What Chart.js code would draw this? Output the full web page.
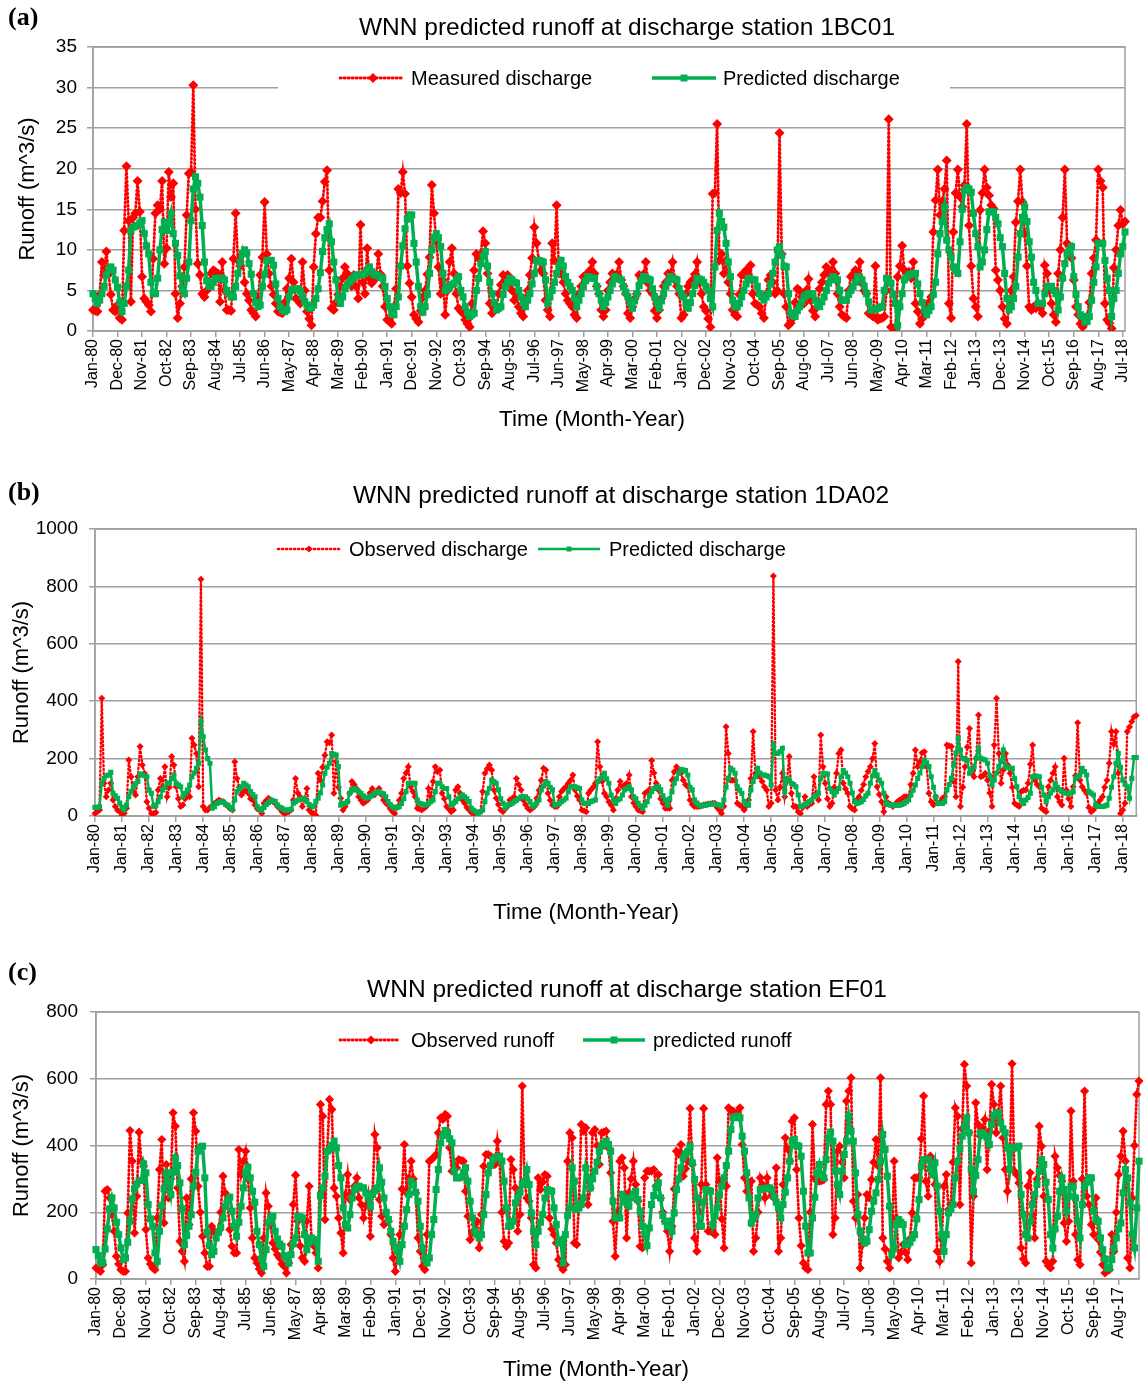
<!DOCTYPE html>
<html>
<head>
<meta charset="utf-8">
<script src="https://cdn.jsdelivr.net/npm/chart.js@4.4.0/dist/chart.umd.min.js"></script>
<style>
  body { margin: 0; background: #fff; }
  .panel { position: absolute; left: 0; width: 1144px; }
</style>
</head>
<body>
<div class="panel" style="top:0;height:460px"><canvas id="chartA" width="1144" height="460"></canvas></div>
<div class="panel" style="top:470px;height:470px"><canvas id="chartB" width="1144" height="470"></canvas></div>
<div class="panel" style="top:950px;height:436px"><canvas id="chartC" width="1144" height="436"></canvas></div>
<script>
// station 1BC01, monthly from Jan-80
const measuredA = [
  2.6, 2.5, 2.4, 4.5, 8.5, 6.9, 9.8, 7.0, 4.5, 2.6, 2.4, 3.2,
  1.6, 1.4, 12.4, 20.3, 13.6, 3.6, 14.0, 14.5, 18.5, 14.7, 6.7, 4.0,
  3.6, 3.2, 2.4, 8.9, 14.5, 15.5, 15.0, 18.5, 8.3, 10.2, 19.6, 16.5,
  18.2, 4.6, 1.6, 3.4, 5.5, 7.9, 14.3, 19.4, 19.6, 30.3, 15.0, 8.3,
  6.9, 4.6, 4.2, 5.0, 6.0, 7.1, 7.5, 7.3, 7.1, 3.6, 8.5, 5.0,
  2.6, 2.6, 2.5, 8.9, 14.5, 8.7, 8.0, 9.5, 6.0, 4.6, 3.8, 2.6,
  2.2, 1.8, 4.0, 6.9, 9.1, 15.9, 9.5, 7.1, 5.5, 4.5, 3.4, 2.4,
  2.3, 2.2, 3.5, 5.2, 6.5, 8.9, 6.0, 4.0, 3.8, 3.4, 8.5, 5.0,
  2.4, 1.5, 0.7, 7.9, 12.0, 14.0, 14.0, 16.0, 18.4, 19.8, 7.5, 2.8,
  2.6, 3.5, 4.5, 5.5, 6.5, 7.9, 7.1, 6.0, 5.5, 6.9, 5.5, 4.0,
  13.1, 6.0, 4.6, 10.2, 6.5, 5.9, 7.1, 6.5, 9.5, 7.0, 5.5, 3.0,
  1.4, 1.2, 0.9, 3.0, 5.2, 17.5, 17.0, 19.6, 16.9, 8.0, 5.9, 4.2,
  2.0, 1.5, 1.1, 2.5, 4.2, 5.0, 7.0, 9.1, 18.0, 14.5, 11.0, 7.9,
  4.6, 6.3, 2.0, 5.0, 8.5, 10.2, 7.1, 4.6, 2.8, 2.5, 2.2, 1.4,
  0.9, 0.5, 3.4, 7.5, 9.5, 9.0, 9.5, 12.3, 10.8, 7.1, 3.4, 2.2,
  2.8, 3.0, 4.6, 5.7, 6.9, 6.0, 6.9, 5.9, 5.0, 3.8, 4.6, 3.0,
  2.2, 1.8, 4.0, 5.0, 6.9, 9.0, 12.8, 10.8, 8.7, 7.5, 7.1, 3.8,
  2.6, 1.8, 10.8, 8.7, 15.5, 7.1, 7.1, 6.0, 4.6, 3.8, 3.4, 3.0,
  2.0, 1.6, 4.6, 5.5, 6.7, 6.9, 6.5, 7.5, 8.5, 7.1, 5.5, 4.6,
  2.6, 1.8, 2.6, 5.0, 6.0, 7.1, 6.5, 7.0, 8.5, 6.3, 5.5, 4.6,
  2.2, 1.6, 3.0, 4.0, 4.6, 6.9, 6.5, 7.0, 8.5, 5.9, 5.0, 4.6,
  2.5, 1.6, 2.6, 4.0, 5.5, 6.0, 7.1, 7.0, 8.5, 6.3, 5.5, 4.6,
  1.6, 2.0, 4.6, 5.5, 6.0, 6.3, 7.0, 8.5, 6.0, 4.6, 3.0, 2.5,
  1.5, 0.5, 16.9, 17.0, 25.5, 8.7, 9.5, 7.1, 8.7, 6.0, 4.6, 2.6,
  2.0, 1.8, 4.5, 6.9, 7.0, 7.5, 6.5, 8.1, 4.6, 3.4, 3.2, 3.0,
  2.2, 1.6, 4.5, 6.3, 6.9, 6.0, 4.6, 5.0, 24.4, 9.5, 4.6, 3.0,
  0.7, 1.0, 1.6, 3.5, 5.2, 5.0, 4.2, 3.4, 5.0, 6.4, 3.8, 2.5,
  1.8, 3.0, 5.2, 6.0, 6.9, 7.9, 7.5, 7.0, 8.5, 7.1, 4.6, 3.0,
  2.0, 1.8, 1.6, 5.0, 6.7, 7.0, 7.5, 7.0, 8.5, 5.9, 5.0, 4.6,
  2.2, 2.0, 1.8, 8.0, 1.4, 1.5, 1.6, 1.8, 5.0, 26.1, 0.5, 0.3,
  0.2, 6.7, 8.0, 10.5, 7.5, 7.0, 7.3, 6.5, 8.5, 3.4, 2.4, 0.9,
  1.5, 2.2, 3.0, 3.5, 4.2, 12.2, 16.1, 19.9, 14.3, 16.0, 17.5, 21.0,
  3.4, 1.6, 12.2, 17.0, 19.9, 16.5, 15.3, 18.0, 25.5, 13.0, 8.0, 4.0,
  3.0, 1.8, 14.9, 17.0, 19.9, 17.7, 16.7, 15.5, 15.1, 7.5, 6.3, 5.0,
  3.0, 1.5, 0.9, 3.0, 5.0, 6.7, 13.4, 16.0, 19.9, 15.9, 12.0, 8.0,
  3.0, 2.6, 3.0, 2.8, 3.4, 2.8, 2.2, 8.1, 7.1, 5.0, 3.4, 2.0,
  1.1, 7.1, 10.0, 14.0, 19.9, 10.8, 10.4, 9.0, 6.3, 3.0, 2.0, 0.9,
  0.5, 1.0, 1.8, 3.5, 7.1, 9.0, 11.2, 19.9, 18.5, 17.7, 3.4, 1.4,
  1.0, 0.3, 7.8, 10.0, 13.0, 14.9, 13.2, 13.5
];
const predictedA = [
  4.6, 4.0, 3.4, 3.8, 4.6, 5.5, 6.9, 7.5, 7.9, 7.5, 6.3, 5.4,
  3.5, 2.4, 3.4, 5.5, 7.5, 12.4, 12.8, 12.9, 13.0, 13.3, 13.6, 12.0,
  10.5, 9.5, 6.0, 4.6, 4.6, 6.5, 10.0, 12.5, 13.4, 12.4, 13.2, 14.5,
  12.0, 10.8, 9.3, 6.8, 5.2, 4.6, 6.5, 8.5, 13.6, 17.5, 19.0, 18.2,
  16.5, 13.0, 8.5, 6.2, 5.5, 5.5, 6.0, 6.5, 6.5, 6.5, 6.5, 6.3,
  5.0, 4.6, 4.2, 4.2, 5.5, 7.1, 8.5, 9.5, 10.0, 9.6, 8.3, 7.0,
  4.6, 3.5, 3.0, 3.2, 5.5, 7.0, 8.7, 8.7, 8.7, 8.1, 5.8, 4.0,
  3.0, 2.6, 2.4, 2.6, 4.2, 5.0, 5.2, 5.2, 5.2, 4.9, 4.3, 3.6,
  3.2, 2.8, 2.9, 3.2, 4.0, 5.2, 7.2, 9.8, 11.5, 12.5, 13.2, 11.0,
  8.5, 6.3, 4.0, 3.4, 4.2, 5.2, 5.6, 6.0, 6.3, 6.6, 6.9, 6.9,
  6.9, 7.0, 7.1, 7.5, 7.9, 7.3, 7.0, 6.9, 6.8, 6.6, 6.5, 5.5,
  4.0, 3.0, 2.2, 2.0, 3.0, 4.2, 8.0, 10.5, 12.6, 13.8, 14.3, 14.3,
  10.8, 8.5, 5.5, 3.0, 2.3, 3.0, 4.5, 7.1, 10.0, 11.5, 12.0, 11.5,
  10.4, 7.1, 5.0, 5.2, 5.5, 5.7, 5.9, 6.3, 6.7, 5.0, 4.2, 3.0,
  2.3, 1.8, 2.0, 2.2, 5.0, 6.5, 8.3, 9.2, 9.8, 8.0, 6.0, 4.6,
  3.5, 2.6, 2.8, 3.0, 4.5, 5.5, 6.0, 6.5, 6.3, 6.0, 5.9, 5.0,
  4.2, 3.5, 3.0, 3.8, 4.6, 5.8, 7.1, 8.7, 8.7, 8.6, 8.5, 6.3,
  3.4, 4.2, 5.0, 6.0, 7.1, 8.0, 8.7, 8.0, 6.7, 6.0, 5.5, 5.0,
  4.0, 3.0, 3.8, 4.6, 5.5, 6.2, 6.7, 6.6, 6.5, 6.5, 5.5, 4.6,
  3.8, 3.0, 3.5, 4.2, 5.0, 5.8, 6.7, 6.5, 6.4, 6.3, 5.5, 4.8,
  4.2, 3.5, 2.8, 3.7, 4.6, 5.6, 6.2, 6.7, 6.6, 6.4, 6.3, 5.2,
  4.2, 3.5, 2.8, 3.7, 4.6, 5.5, 6.0, 6.7, 6.5, 6.4, 6.3, 5.2,
  4.6, 4.2, 3.4, 2.8, 3.5, 4.6, 5.6, 6.5, 6.4, 6.3, 6.0, 5.5,
  5.0, 4.0, 3.0, 7.9, 12.4, 14.5, 13.5, 12.8, 10.8, 8.5, 6.7, 3.8,
  3.0, 3.0, 3.4, 4.2, 5.0, 5.8, 6.5, 6.4, 6.3, 6.3, 5.5, 4.6,
  4.2, 3.8, 4.2, 4.6, 5.8, 7.1, 8.5, 10.0, 10.4, 9.3, 8.0, 7.9,
  4.6, 2.2, 1.9, 1.8, 2.5, 3.0, 3.6, 4.2, 4.4, 4.6, 4.6, 4.6,
  3.8, 3.2, 3.0, 3.6, 4.2, 5.0, 5.9, 6.3, 6.7, 6.5, 6.3, 5.0,
  3.8, 3.8, 3.8, 4.5, 5.0, 5.5, 6.0, 6.7, 6.5, 6.3, 5.5, 4.6,
  3.6, 2.6, 2.6, 2.7, 2.8, 2.9, 3.0, 5.0, 6.5, 6.2, 5.9, 4.5,
  3.4, 0.7, 3.0, 4.6, 6.3, 6.6, 6.9, 7.0, 7.1, 7.1, 5.8, 4.6,
  3.5, 2.6, 2.0, 2.5, 3.0, 4.5, 6.0, 9.5, 12.0, 13.5, 15.3, 11.2,
  10.0, 9.1, 7.9, 7.5, 7.1, 11.0, 15.0, 17.3, 17.7, 17.5, 17.1, 14.5,
  12.0, 10.4, 7.9, 8.5, 10.0, 12.5, 14.7, 14.7, 14.7, 14.0, 13.2, 11.5,
  10.4, 7.1, 4.0, 2.6, 3.0, 4.0, 5.5, 9.1, 12.0, 14.0, 15.3, 13.5,
  11.0, 9.1, 6.0, 5.0, 3.4, 3.4, 3.4, 4.6, 5.5, 5.5, 5.5, 5.0,
  4.6, 2.6, 4.2, 6.5, 8.3, 9.5, 10.0, 10.4, 6.7, 4.5, 3.0, 2.0,
  1.8, 1.1, 1.2, 1.8, 3.8, 6.0, 7.9, 10.8, 10.8, 10.8, 8.7, 6.5,
  5.0, 1.8, 4.0, 5.0, 7.1, 9.5, 10.4, 12.2
];

// station 1DA02
const observedB = [
  9, 15, 21, 410, 114, 67, 91, 114, 56, 33, 20, 15,
  3, 10, 27, 195, 137, 85, 73, 137, 242, 178, 149, 50,
  27, 9, 10, 12, 91, 131, 102, 172, 67, 100, 207, 178,
  102, 60, 33, 38, 60, 85, 67, 271, 247, 218, 102, 825,
  33, 21, 21, 30, 35, 44, 50, 56, 52, 50, 40, 33,
  25, 21, 189, 131, 100, 73, 85, 91, 79, 60, 56, 38,
  25, 21, 9, 44, 55, 62, 56, 50, 44, 33, 25, 15,
  9, 12, 15, 21, 56, 131, 80, 67, 33, 60, 96, 21,
  12, 9, 3, 149, 125, 170, 212, 259, 255, 282, 79, 189,
  100, 62, 21, 33, 50, 79, 120, 110, 96, 67, 55, 44,
  50, 56, 80, 96, 73, 85, 96, 75, 56, 45, 38, 25,
  15, 9, 30, 55, 79, 131, 150, 172, 102, 85, 67, 27,
  24, 21, 27, 33, 96, 67, 120, 172, 154, 160, 79, 60,
  33, 24, 15, 21, 91, 102, 79, 56, 44, 30, 21, 12,
  9, 3, 10, 15, 85, 149, 165, 178, 160, 91, 62, 40,
  21, 15, 25, 33, 56, 60, 67, 131, 110, 91, 56, 40,
  27, 21, 27, 33, 62, 90, 125, 166, 160, 79, 55, 38,
  33, 33, 67, 85, 95, 102, 114, 125, 143, 91, 70, 56,
  21, 18, 15, 79, 91, 100, 114, 259, 172, 120, 79, 67,
  50, 38, 21, 60, 91, 120, 102, 108, 114, 143, 67, 45,
  33, 21, 18, 15, 79, 85, 91, 193, 150, 114, 91, 60,
  44, 27, 27, 27, 125, 154, 172, 160, 149, 125, 110, 102,
  56, 40, 33, 33, 33, 35, 38, 40, 42, 43, 44, 44,
  30, 21, 9, 33, 311, 218, 125, 125, 125, 44, 38, 33,
  21, 35, 56, 131, 294, 149, 140, 137, 120, 102, 91, 33,
  44, 836, 91, 56, 100, 149, 67, 120, 207, 79, 33, 33,
  15, 9, 30, 67, 33, 40, 44, 137, 80, 56, 282, 172,
  114, 60, 33, 44, 100, 149, 218, 230, 114, 95, 79, 33,
  25, 21, 56, 67, 90, 110, 137, 155, 172, 200, 253, 102,
  75, 50, 15, 67, 45, 40, 33, 40, 50, 56, 60, 67,
  67, 67, 110, 149, 230, 172, 189, 220, 224, 172, 79, 50,
  38, 67, 44, 50, 62, 67, 247, 245, 242, 120, 67, 538,
  33, 100, 172, 240, 305, 149, 137, 200, 352, 137, 140, 149,
  125, 80, 33, 247, 410, 218, 114, 160, 218, 178, 149, 100,
  44, 38, 33, 85, 90, 91, 114, 180, 247, 125, 110, 102,
  27, 20, 15, 102, 125, 149, 172, 67, 50, 38, 201, 91,
  60, 33, 102, 140, 325, 125, 102, 90, 79, 30, 15, 21,
  33, 45, 56, 67, 100, 125, 184, 294, 250, 294, 149, 9,
  21, 44, 294, 310, 329, 346, 350
];
const predictedB = [
  30, 30, 32, 114, 131, 140, 143, 152, 79, 70, 62, 45,
  30, 21, 38, 67, 85, 102, 112, 120, 146, 143, 140, 137,
  90, 79, 33, 38, 50, 67, 91, 100, 114, 115, 130, 143,
  114, 108, 102, 67, 79, 90, 108, 137, 150, 166, 184, 329,
  276, 230, 200, 184, 27, 32, 44, 47, 50, 48, 40, 38,
  30, 23, 56, 85, 95, 102, 114, 108, 102, 85, 75, 67,
  32, 25, 19, 30, 40, 46, 56, 53, 50, 38, 30, 27,
  21, 21, 21, 23, 45, 50, 55, 58, 60, 62, 50, 40,
  35, 32, 50, 62, 80, 108, 149, 170, 184, 218, 215, 212,
  172, 38, 42, 44, 50, 79, 90, 96, 91, 85, 79, 70,
  62, 65, 67, 72, 79, 82, 85, 80, 77, 67, 50, 40,
  32, 27, 30, 32, 44, 60, 85, 114, 114, 114, 114, 56,
  44, 42, 38, 40, 44, 50, 56, 85, 114, 114, 102, 96,
  96, 67, 38, 45, 50, 60, 67, 73, 67, 60, 50, 27,
  20, 15, 9, 15, 21, 50, 80, 96, 125, 120, 114, 91,
  60, 44, 27, 38, 40, 44, 50, 55, 60, 67, 67, 67,
  60, 50, 33, 38, 45, 56, 91, 105, 120, 114, 100, 91,
  38, 40, 44, 50, 56, 62, 85, 102, 102, 102, 98, 96,
  56, 44, 44, 44, 50, 53, 56, 120, 130, 137, 149, 130,
  114, 73, 55, 44, 56, 60, 73, 91, 96, 102, 91, 67,
  60, 44, 35, 27, 38, 50, 70, 85, 96, 100, 102, 91,
  70, 56, 38, 60, 85, 114, 130, 149, 163, 160, 158, 143,
  100, 91, 56, 45, 38, 35, 37, 38, 41, 42, 42, 42,
  40, 38, 33, 56, 100, 131, 166, 160, 149, 102, 90, 79,
  50, 40, 38, 91, 120, 137, 166, 150, 143, 143, 140, 137,
  108, 247, 218, 218, 225, 236, 85, 131, 125, 114, 110, 102,
  73, 33, 35, 40, 44, 50, 56, 67, 72, 79, 131, 149,
  148, 146, 96, 85, 73, 85, 96, 137, 158, 150, 137, 114,
  80, 50, 44, 46, 50, 58, 70, 79, 114, 140, 158, 143,
  125, 114, 79, 44, 40, 38, 38, 38, 38, 38, 40, 44,
  50, 56, 73, 90, 108, 131, 150, 172, 195, 185, 172, 137,
  100, 67, 44, 44, 44, 50, 91, 110, 131, 178, 220, 271,
  230, 201, 198, 195, 149, 160, 172, 201, 236, 201, 198, 195,
  184, 140, 108, 125, 150, 172, 189, 230, 172, 170, 166, 166,
  130, 102, 67, 55, 44, 56, 65, 79, 137, 139, 138, 137,
  100, 73, 50, 67, 80, 91, 114, 100, 91, 85, 82, 79,
  77, 80, 85, 131, 137, 143, 166, 155, 143, 85, 79, 73,
  38, 33, 33, 33, 35, 38, 62, 100, 137, 184, 218, 170,
  125, 110, 102, 62, 131, 204, 204
];

// station EF01
const observedC = [
  33, 28, 23, 43, 263, 268, 243, 193, 143, 68, 45, 28,
  23, 23, 198, 445, 353, 138, 248, 440, 353, 338, 148, 63,
  45, 33, 28, 183, 328, 418, 168, 343, 243, 300, 498, 458,
  273, 113, 83, 53, 243, 163, 300, 498, 443, 278, 200, 128,
  78, 38, 38, 158, 145, 133, 143, 200, 308, 258, 233, 148,
  98, 78, 78, 388, 313, 353, 383, 300, 213, 123, 63, 48,
  30, 18, 123, 258, 218, 163, 108, 90, 73, 63, 45, 38,
  18, 48, 103, 223, 311, 173, 100, 63, 53, 173, 278, 123,
  100, 78, 33, 523, 488, 178, 383, 538, 508, 273, 248, 183,
  138, 78, 253, 313, 238, 260, 278, 303, 243, 223, 183, 220,
  253, 128, 260, 433, 393, 238, 188, 163, 170, 173, 133, 63,
  23, 80, 133, 270, 403, 258, 303, 353, 300, 258, 123, 83,
  38, 28, 133, 353, 358, 365, 373, 438, 483, 478, 493, 488,
  393, 323, 343, 333, 358, 355, 353, 263, 188, 118, 140, 163,
  173, 93, 193, 338, 373, 373, 368, 363, 343, 413, 353, 200,
  113, 98, 108, 358, 328, 273, 143, 193, 578, 293, 243, 233,
  183, 43, 33, 303, 268, 290, 313, 308, 183, 150, 133, 108,
  58, 40, 28, 43, 353, 438, 423, 108, 103, 223, 463, 443,
  453, 223, 273, 438, 448, 400, 343, 438, 440, 443, 393, 318,
  173, 68, 200, 353, 363, 333, 123, 258, 300, 353, 283, 233,
  98, 93, 303, 323, 323, 323, 328, 278, 313, 243, 200, 173,
  143, 83, 158, 270, 383, 373, 403, 308, 330, 353, 511, 343,
  123, 83, 200, 283, 511, 283, 143, 143, 140, 133, 363, 293,
  180, 93, 278, 513, 505, 503, 493, 500, 513, 403, 303, 263,
  280, 293, 83, 123, 200, 303, 283, 243, 303, 268, 250, 243,
  333, 83, 123, 283, 423, 390, 353, 473, 483, 328, 183, 100,
  48, 33, 28, 200, 463, 303, 293, 293, 295, 298, 523, 563,
  523, 133, 183, 383, 398, 350, 303, 533, 563, 603, 233, 183,
  253, 33, 103, 183, 253, 243, 298, 350, 418, 338, 603, 123,
  90, 53, 33, 83, 353, 183, 63, 80, 103, 80, 58, 120,
  198, 303, 303, 303, 420, 548, 293, 248, 368, 353, 283, 83,
  53, 118, 278, 313, 208, 223, 350, 513, 488, 223, 450, 643,
  578, 438, 48, 248, 528, 463, 428, 450, 478, 328, 443, 583,
  523, 438, 500, 578, 423, 328, 263, 333, 645, 323, 313, 288,
  93, 60, 48, 278, 318, 193, 123, 300, 458, 398, 248, 53,
  40, 33, 53, 368, 333, 310, 293, 168, 113, 173, 503, 293,
  133, 58, 43, 300, 563, 248, 223, 163, 133, 243, 118, 80,
  43, 18, 25, 28, 133, 83, 200, 313, 368, 443, 353, 63,
  33, 243, 400, 553, 593
];
const predictedC = [
  88, 70, 48, 48, 90, 150, 210, 243, 213, 170, 133, 93,
  58, 63, 110, 173, 240, 270, 285, 295, 295, 345, 318, 223,
  180, 158, 78, 53, 143, 220, 270, 318, 293, 253, 320, 363,
  340, 288, 210, 103, 130, 158, 193, 278, 320, 383, 395, 398,
  303, 140, 100, 73, 83, 123, 140, 155, 183, 218, 235, 245,
  203, 158, 128, 170, 218, 273, 320, 335, 303, 263, 230, 143,
  103, 60, 38, 88, 170, 185, 188, 143, 120, 105, 98, 70,
  63, 48, 73, 105, 123, 188, 186, 183, 133, 88, 110, 123,
  118, 113, 53, 250, 273, 308, 383, 388, 400, 413, 393, 340,
  303, 213, 163, 153, 193, 243, 268, 275, 278, 273, 273, 258,
  243, 218, 253, 265, 273, 333, 290, 243, 200, 178, 143, 113,
  95, 83, 53, 103, 158, 208, 253, 293, 283, 260, 233, 158,
  93, 60, 48, 63, 133, 178, 268, 328, 408, 430, 445, 438,
  420, 408, 323, 303, 303, 305, 320, 333, 293, 233, 183, 143,
  133, 123, 133, 193, 253, 318, 340, 358, 363, 365, 368, 353,
  293, 213, 158, 160, 173, 228, 245, 260, 283, 293, 328, 283,
  198, 143, 103, 143, 170, 193, 243, 268, 265, 263, 213, 163,
  108, 118, 48, 133, 190, 213, 333, 293, 208, 213, 223, 243,
  333, 303, 273, 300, 323, 350, 383, 398, 405, 413, 403, 383,
  233, 183, 183, 183, 253, 243, 230, 218, 243, 255, 263, 238,
  203, 158, 133, 100, 153, 223, 250, 273, 288, 243, 190, 173,
  158, 173, 143, 198, 268, 300, 333, 363, 375, 383, 398, 348,
  298, 243, 158, 158, 230, 268, 265, 263, 163, 190, 213, 253,
  278, 303, 340, 383, 448, 483, 485, 488, 483, 428, 383, 318,
  243, 168, 180, 193, 243, 268, 270, 271, 272, 273, 268, 248,
  230, 213, 183, 223, 260, 303, 353, 413, 418, 400, 398, 368,
  263, 158, 78, 78, 183, 245, 318, 343, 313, 303, 358, 423,
  440, 413, 323, 283, 253, 323, 373, 413, 488, 443, 413, 318,
  193, 143, 120, 108, 113, 148, 203, 233, 258, 298, 353, 433,
  388, 308, 218, 73, 93, 163, 178, 170, 163, 103, 103, 110,
  123, 133, 180, 238, 338, 358, 358, 358, 330, 313, 348, 278,
  203, 133, 83, 133, 198, 210, 223, 303, 353, 390, 428, 458,
  483, 438, 328, 263, 310, 358, 438, 438, 430, 423, 403, 463,
  490, 498, 498, 468, 450, 438, 393, 328, 393, 393, 393, 398,
  253, 193, 133, 123, 173, 223, 253, 283, 323, 358, 343, 290,
  238, 133, 93, 150, 188, 263, 303, 268, 203, 248, 278, 278,
  243, 173, 123, 223, 278, 290, 303, 303, 203, 178, 173, 123,
  88, 60, 33, 33, 58, 93, 123, 150, 168, 258, 328, 303,
  228, 133, 93, 213, 353
];

const monthNames = ['Jan', 'Feb', 'Mar', 'Apr', 'May', 'Jun', 'Jul', 'Aug', 'Sep', 'Oct', 'Nov', 'Dec'];

function monthLabels(n) {
  const out = [];
  for (let i = 0; i < n; i++) {
    const yy = (80 + Math.floor(i / 12)) % 100;
    out.push(monthNames[i % 12] + '-' + String(yy).padStart(2, '0'));
  }
  return out;
}

const RED = '#ff0000';
const GREEN = '#00b050';
const GRID = '#a0a0a0';
const SANS = '"Liberation Sans", Arial, sans-serif';
const DOTS = [1.2, 2.8];
Chart.defaults.font.family = SANS;

const decorByCanvas = {};

function diamond(ctx, x, y, r) {
  ctx.beginPath();
  ctx.moveTo(x, y - r); ctx.lineTo(x + r, y); ctx.lineTo(x, y + r); ctx.lineTo(x - r, y);
  ctx.closePath(); ctx.fill();
}

// titles, in-plot legend and the plot frame
const decor = {
  id: 'decor',
  beforeDatasetsDraw(chart) {
    const d = decorByCanvas[chart.canvas.id];
    const ctx = chart.ctx;
    const a = chart.chartArea;
    ctx.save();
    if (d.box) {
      ctx.fillStyle = '#fff';
      ctx.fillRect(d.box[0], d.box[1], d.box[2], d.box[3]);
    }
    ctx.strokeStyle = GRID;
    ctx.lineWidth = 1.5;
    ctx.strokeRect(a.left, a.top, a.right - a.left, a.bottom - a.top);

    const y = d.legendY;
    d.items.forEach(it => {
      ctx.beginPath();
      ctx.strokeStyle = it.color;
      ctx.fillStyle = it.color;
      ctx.lineWidth = it.width;
      ctx.setLineDash(it.dash || []);
      ctx.lineCap = it.dash ? 'round' : 'butt';
      ctx.moveTo(it.x1, y);
      ctx.lineTo(it.x2, y);
      ctx.stroke();
      ctx.setLineDash([]);
      if (it.marker === 'diamond') diamond(ctx, it.mx, y, it.r);
      else ctx.fillRect(it.mx - it.r, y - it.r, it.r * 2, it.r * 2);
      ctx.fillStyle = '#000';
      ctx.font = '20px ' + SANS;
      ctx.textAlign = 'left';
      ctx.textBaseline = 'middle';
      ctx.fillText(it.text, it.tx, y + 1);
    });
    ctx.restore();
  },
  afterDraw(chart) {
    const d = decorByCanvas[chart.canvas.id];
    const ctx = chart.ctx;
    ctx.save();
    ctx.fillStyle = '#000';
    ctx.textBaseline = 'middle';
    ctx.textAlign = 'left';
    ctx.font = 'bold 26px "Liberation Serif", "Times New Roman", serif';
    ctx.fillText(d.label, 8, d.labelY);
    ctx.textAlign = 'center';
    ctx.font = '24.5px ' + SANS;
    ctx.fillText(d.title, d.titleX, d.titleY);
    ctx.font = '22.5px ' + SANS;
    ctx.fillText('Time (Month-Year)', d.xTitleX, d.xTitleY);
    ctx.restore();
  }
};

function makeChart(id, c) {
  decorByCanvas[id] = c.decor;
  const labels = monthLabels(c.measured.length);
  return new Chart(document.getElementById(id), {
    type: 'line',
    data: {
      labels: labels,
      datasets: [
        {
          label: c.predName,
          data: c.predicted,
          borderColor: GREEN,
          backgroundColor: GREEN,
          borderWidth: c.gw,
          pointStyle: 'rect',
          pointRadius: c.gr,
          pointBorderWidth: 0,
          tension: 0,
          order: 0
        },
        {
          label: c.measName,
          data: c.measured,
          borderColor: RED,
          backgroundColor: RED,
          borderWidth: c.rw,
          borderDash: DOTS,
          borderCapStyle: 'round',
          pointStyle: 'rectRot',
          pointRadius: c.rr,
          pointBorderWidth: 0,
          tension: 0,
          order: 1
        }
      ]
    },
    options: {
      responsive: false,
      animation: false,
      devicePixelRatio: 1,
      layout: { padding: { top: c.top, right: 3, left: 0, bottom: 0 } },
      plugins: { legend: { display: false }, tooltip: { enabled: false } },
      scales: {
        x: {
          offset: false,
          afterFit: s => { s.height = c.xh; },
          grid: { drawOnChartArea: false, drawTicks: true, tickLength: 6, color: GRID, lineWidth: 1.5 },
          border: { color: GRID, width: 1.5 },
          ticks: {
            autoSkip: false,
            minRotation: 90,
            maxRotation: 90,
            padding: 2,
            color: '#000',
            font: { size: 16 },
            callback: (v, i) => (i % c.step === 0 ? labels[i] : null)
          }
        },
        y: {
          min: 0,
          max: c.ymax,
          afterFit: s => { s.width = c.yw; },
          grid: { color: GRID, lineWidth: 1.5, tickLength: 6 },
          border: { color: GRID, width: 1.5 },
          ticks: {
            stepSize: c.ystep,
            padding: c.ypad,
            color: '#000',
            font: { size: 19 },
            callback: v => String(v)
          },
          title: {
            display: true,
            text: 'Runoff (m^3/s)',
            color: '#000',
            font: { size: 22 },
            padding: { top: c.ytitle, bottom: 0 }
          }
        }
      }
    },
    plugins: [decor]
  });
}

makeChart('chartA', {
  measured: measuredA, predicted: predictedA,
  measName: 'Measured discharge', predName: 'Predicted discharge',
  top: 47, xh: 129, yw: 93, ypad: 10, ytitle: 15, step: 11,
  ymax: 35, ystep: 5, gw: 3.5, gr: 5, rw: 2.8, rr: 5,
  decor: {
    label: '(a)', labelY: 18,
    title: 'WNN predicted runoff at discharge station 1BC01', titleX: 627, titleY: 28,
    xTitleX: 592, xTitleY: 420,
    box: [278, 60, 672, 38],
    legendY: 78,
    items: [
      { color: RED, width: 2.8, dash: DOTS, x1: 340, x2: 402, mx: 373, r: 5, marker: 'diamond', tx: 411, text: 'Measured discharge' },
      { color: GREEN, width: 3.5, x1: 652, x2: 716, mx: 684, r: 3.5, marker: 'square', tx: 723, text: 'Predicted discharge' }
    ]
  }
});

makeChart('chartB', {
  measured: observedB, predicted: predictedB,
  measName: 'Observed discharge', predName: 'Predicted discharge',
  top: 59, xh: 124, yw: 95, ypad: 11, ytitle: 9, step: 12,
  ymax: 1000, ystep: 200, gw: 2.5, gr: 3.6, rw: 2.4, rr: 3.5,
  decor: {
    label: '(b)', labelY: 23,
    title: 'WNN predicted runoff at discharge station 1DA02', titleX: 621, titleY: 26,
    xTitleX: 586, xTitleY: 443,
    legendY: 79,
    items: [
      { color: RED, width: 2.4, dash: DOTS, x1: 278, x2: 340, mx: 309, r: 3.5, marker: 'diamond', tx: 349, text: 'Observed discharge' },
      { color: GREEN, width: 2.5, x1: 538, x2: 600, mx: 569, r: 2.5, marker: 'square', tx: 609, text: 'Predicted discharge' }
    ]
  }
});

makeChart('chartC', {
  measured: observedC, predicted: predictedC,
  measName: 'Observed runoff', predName: 'predicted runoff',
  top: 62, xh: 107, yw: 96, ypad: 12, ytitle: 9, step: 11,
  ymax: 800, ystep: 200, gw: 3.5, gr: 5, rw: 2.8, rr: 4.6,
  decor: {
    label: '(c)', labelY: 23,
    title: 'WNN predicted runoff at discharge station EF01', titleX: 627, titleY: 40,
    xTitleX: 596, xTitleY: 420,
    legendY: 90,
    items: [
      { color: RED, width: 2.8, dash: DOTS, x1: 340, x2: 400, mx: 371, r: 4.6, marker: 'diamond', tx: 411, text: 'Observed runoff' },
      { color: GREEN, width: 3.5, x1: 583, x2: 645, mx: 614, r: 3.5, marker: 'square', tx: 653, text: 'predicted runoff' }
    ]
  }
});
</script>
</body>
</html>
